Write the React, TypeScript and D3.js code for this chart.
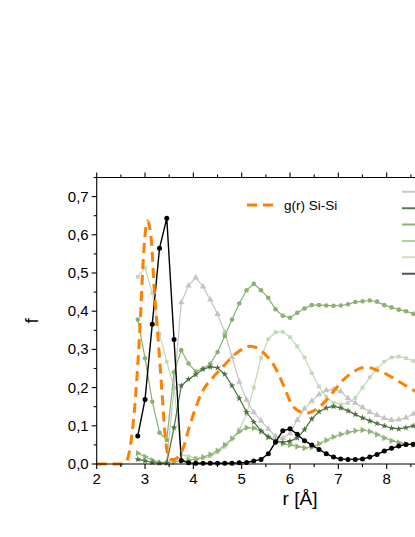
import React from "react";
import * as d3 from "d3";

// r grid of the sampled series (Å)
const rValues = [2.85, 3.0, 3.15, 3.3, 3.45, 3.6, 3.75, 3.9, 4.05, 4.2, 4.35, 4.5, 4.65, 4.8, 4.95, 5.1, 5.25, 5.4, 5.55, 5.7, 5.85, 6.0, 6.15, 6.3, 6.45, 6.6, 6.75, 6.9, 7.05, 7.2, 7.35, 7.5, 7.65, 7.8, 7.95, 8.1, 8.25, 8.4, 8.55, 8.7];

const grayF = [0.005, 0.2, 0.423, 0.467, 0.488, 0.464, 0.43, 0.392, 0.345, 0.28, 0.215, 0.168, 0.135, 0.113, 0.092, 0.073, 0.068, 0.08, 0.115, 0.145, 0.165, 0.182, 0.193, 0.196, 0.19, 0.172, 0.16, 0.148, 0.136, 0.128, 0.12, 0.115, 0.116, 0.121, 0.131, 0.14];
const starF = [0.012, 0.008, 0.004, 0.002, 0.003, 0.095, 0.205, 0.222, 0.234, 0.248, 0.254, 0.252, 0.235, 0.205, 0.172, 0.136, 0.11, 0.087, 0.071, 0.061, 0.057, 0.06, 0.068, 0.09, 0.118, 0.137, 0.147, 0.151, 0.147, 0.139, 0.13, 0.121, 0.113, 0.106, 0.1, 0.094, 0.092, 0.095, 0.1, 0.104];
const circleF = [0.378, 0.277, 0.163, 0.082, 0.063, 0.24, 0.298, 0.263, 0.242, 0.25, 0.262, 0.293, 0.335, 0.378, 0.42, 0.455, 0.472, 0.455, 0.435, 0.405, 0.388, 0.383, 0.396, 0.407, 0.416, 0.416, 0.415, 0.414, 0.415, 0.418, 0.424, 0.426, 0.428, 0.425, 0.416, 0.41, 0.404, 0.4, 0.393, 0.387];
const rtriF = [0.028, 0.019, 0.01, 0.004, 0.003, 0.006, 0.008, 0.01, 0.012, 0.018, 0.025, 0.035, 0.05, 0.067, 0.085, 0.095, 0.094, 0.085, 0.07, 0.059, 0.053, 0.05, 0.046, 0.042, 0.044, 0.053, 0.062, 0.071, 0.078, 0.083, 0.087, 0.089, 0.085, 0.077, 0.068, 0.061, 0.056, 0.052, 0.05, 0.048];
const squareF = [0.49, 0.514, 0.447, 0.34, 0.268, 0.2, 0.025, 0.02, 0.016, 0.015, 0.02, 0.03, 0.045, 0.065, 0.09, 0.13, 0.2, 0.278, 0.327, 0.345, 0.346, 0.332, 0.308, 0.279, 0.238, 0.203, 0.176, 0.16, 0.156, 0.16, 0.173, 0.2, 0.227, 0.25, 0.268, 0.279, 0.281, 0.277, 0.27, 0.262];
const blackF = [0.073, 0.169, 0.366, 0.565, 0.643, 0.326, 0.009, 0.003, 0.002, 0.002, 0.002, 0.002, 0.002, 0.002, 0.003, 0.004, 0.008, 0.012, 0.027, 0.057, 0.087, 0.092, 0.078, 0.061, 0.05, 0.038, 0.027, 0.018, 0.013, 0.012, 0.012, 0.013, 0.018, 0.025, 0.034, 0.041, 0.047, 0.051, 0.052, 0.053];

// g(r) Si-Si
const gR = [2.0, 2.5, 2.6, 2.7, 2.8, 2.9, 2.97, 3.05, 3.12, 3.2, 3.27, 3.35, 3.42, 3.47, 3.52, 3.6, 3.7, 3.8, 3.9, 4.0, 4.1, 4.2, 4.4, 4.6, 4.8, 5.0, 5.15, 5.3, 5.5, 5.65, 5.8, 5.9, 6.0, 6.1, 6.2, 6.35, 6.5, 6.7, 6.9, 7.1, 7.3, 7.5, 7.65, 7.8, 8.0, 8.2, 8.4, 8.6, 8.8];
const gF = [0, 0, 0.004, 0.05, 0.17, 0.37, 0.55, 0.636, 0.6, 0.44, 0.33, 0.19, 0.07, 0.025, 0.012, 0.012, 0.02, 0.045, 0.09, 0.13, 0.165, 0.193, 0.226, 0.253, 0.28, 0.3, 0.308, 0.305, 0.285, 0.262, 0.225, 0.195, 0.165, 0.146, 0.137, 0.133, 0.14, 0.16, 0.19, 0.22, 0.24, 0.252, 0.252, 0.245, 0.235, 0.22, 0.205, 0.19, 0.178];

const xTicks = [2, 3, 4, 5, 6, 7, 8, 9, 10];
const xTickLabels = ["2", "3", "4", "5", "6", "7", "8"];
const xMinor = [2.5, 3.5, 4.5, 5.5, 6.5, 7.5, 8.5, 9.5, 10.5];
const yTicks = [0, 0.1, 0.2, 0.3, 0.4, 0.5, 0.6, 0.7];
const yMinor = [0.05, 0.15, 0.25, 0.35, 0.45, 0.55, 0.65, 0.75];
const yTickLabels = ["0,0", "0,1", "0,2", "0,3", "0,4", "0,5", "0,6", "0,7"];
const gLabel = "g(r) Si-Si";

const FONT = "'Liberation Sans', Arial, sans-serif";

export default function App() {
  const W = 415, H = 537;
  const x = d3.scaleLinear().domain([2, 10.5]).range([96.7, 507.5]);
  const y = d3.scaleLinear().domain([0, 0.75]).range([464, 177.5]);
  const x0 = x.range()[0], x1 = x.range()[1];
  const yb = y.range()[0], yt = y.range()[1];

  const lin = d3.line<[number, number]>().x(d => x(d[0])).y(d => y(d[1]));
  const smooth = d3.line<[number, number]>().x(d => x(d[0])).y(d => y(d[1])).curve(d3.curveMonotoneX);

  const tri = d3.symbol().type(d3.symbolTriangle).size(18)() as string;
  const star = d3.symbol().type(d3.symbolStar).size(14)() as string;
  const sq = d3.symbol().type(d3.symbolSquare).size(14)() as string;

  const series = [
    { f: squareF, r: rValues, color: "#c3d9b1", w: 1.2, marker: (k: string) => <path key={k} d={sq} /> },
    { f: rtriF, r: rValues, color: "#8fb573", w: 1.2, marker: (k: string) => <path key={k} d={tri} transform="rotate(90)" /> },
    { f: grayF, r: rValues.slice(4), color: "#c4c4c4", w: 1.2, marker: (k: string) => <path key={k} d={tri} /> },
    { f: circleF, r: rValues, color: "#8bb06f", w: 1.2, marker: (k: string) => <circle key={k} r={2.3} /> },
    { f: starF, r: rValues, color: "#4d6e3e", w: 1.2, marker: (k: string) => <path key={k} d={star} /> },
    { f: blackF, r: rValues, color: "#000000", w: 1.4, marker: (k: string) => <circle key={k} r={2.5} /> },
  ];

  const legendColors = ["#c8c8c8", "#5a7a4a", "#8bb06f", "#b2cf9c", "#cfe0c2", "#555555"];
  const legendY = [191.7, 208.3, 224.5, 241, 257.3, 273.7];

  return (
    <div style={{ position: "absolute", left: 0, top: 0 }}>
      <svg width={W} height={H} style={{ display: "block", background: "#fff" }} fontFamily={FONT}>
        {/* series */}
        {series.map((s, i) => {
          const pts: [number, number][] = s.f.map((v, j) => [s.r[j], v]);
          return (
            <g key={i}>
              <path d={lin(pts) as string} fill="none" stroke={s.color} strokeWidth={s.w} />
              <g fill={s.color}>
                {pts.map((p, j) => (
                  <g key={j} transform={`translate(${x(p[0])},${y(p[1])})`}>{s.marker("m" + j)}</g>
                ))}
              </g>
            </g>
          );
        })}
        {/* g(r) */}
        <path
          d={smooth(gR.map((r, i) => [r, gF[i]] as [number, number])) as string}
          fill="none"
          stroke="#ff8000"
          strokeWidth={3}
          strokeDasharray="10,6"
        />

        {/* axes */}
        <g stroke="#000" strokeWidth={1.1}>
          <line x1={x0} x2={x1} y1={yb} y2={yb} />
          <line x1={x0} x2={x1} y1={yt} y2={yt} />
          <line x1={x0} x2={x0} y1={yb + 0.5} y2={yt - 0.5} />
          <line x1={x1} x2={x1} y1={yb} y2={yt} />
          {xTicks.map(t => (
            <g key={"xt" + t}>
              <line x1={x(t)} x2={x(t)} y1={yb} y2={yb + 5} />
              <line x1={x(t)} x2={x(t)} y1={yt} y2={yt - 5} />
            </g>
          ))}
          {xMinor.map(t => (
            <g key={"xm" + t}>
              <line x1={x(t)} x2={x(t)} y1={yb} y2={yb + 3} />
              <line x1={x(t)} x2={x(t)} y1={yt} y2={yt - 3} />
            </g>
          ))}
          {yTicks.map(t => (
            <line key={"yt" + t} x1={x0} x2={x0 - 5} y1={y(t)} y2={y(t)} />
          ))}
          {yMinor.map(t => (
            <line key={"ym" + t} x1={x0} x2={x0 - 3} y1={y(t)} y2={y(t)} />
          ))}
        </g>
        <g fontSize={15} fill="#000">
          {xTickLabels.map(t => (
            <text key={"xl" + t} x={x(+t)} y={yb + 20} textAnchor="middle">{t}</text>
          ))}
          {yTicks.map((t, i) => (
            <text key={"yl" + t} x={x0 - 8} y={y(t) + 5} textAnchor="end">{yTickLabels[i]}</text>
          ))}
        </g>
        <text x={300} y={505} fontSize={19} textAnchor="middle">r [Å]</text>
        <text transform={`translate(38,${(yb + yt) / 2}) rotate(-90)`} fontSize={19} textAnchor="middle">f</text>

        {/* legend */}
        <line x1={247} x2={277} y1={205} y2={205} stroke="#ff8000" strokeWidth={3} strokeDasharray="10,6" />
        <text x={284} y={210} fontSize={13.5}>{gLabel}</text>
        {legendY.map((ly, i) => (
          <line key={"lg" + i} x1={402} x2={440} y1={ly} y2={ly} stroke={legendColors[i]} strokeWidth={2} />
        ))}
      </svg>
    </div>
  );
}
